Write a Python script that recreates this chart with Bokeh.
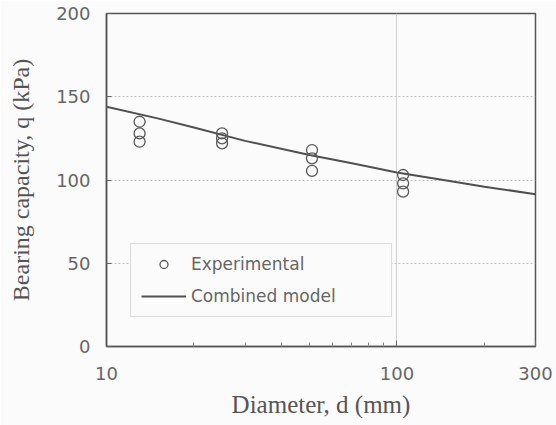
from bokeh.plotting import figure
from bokeh.models import (FixedTicker, Legend, LegendItem, ColumnDataSource,
                          Range1d, PrintfTickFormatter)
from bokeh.embed import file_html
from bokeh.resources import INLINE

# ---- data ----
test_diam = [13, 25, 51, 105]          # mm
q_d13 = [135, 128, 123]                # kPa
q_d25 = [128, 125, 122]
q_d51 = [118, 113, 105.5]
q_d105 = [103, 98, 93]

model_diam = [10, 15, 20, 30, 50, 70, 100, 150, 200, 300]
model_q = [144, 137, 131.5, 123.5, 115, 110, 104.5, 99.5, 96, 91.5]

x_ticks = [10, 100, 300]
x_minor = [20, 30, 40, 50, 60, 70, 80, 90, 200]
y_ticks = [0, 50, 100, 150, 200]

x_lo, x_hi = 10, 300
y_lo, y_hi = 0, 200

# ---- sources ----
groups = [q_d13, q_d25, q_d51, q_d105]
exp_d, exp_q = [], []
for d, qs in zip(test_diam, groups):
    exp_d += [d] * len(qs)
    exp_q += qs
exp_src = ColumnDataSource(dict(d=exp_d, q=exp_q))
model_src = ColumnDataSource(dict(d=model_diam, q=model_q))

BG = "#fbfbfb"
p = figure(width=556, height=425, x_axis_type="log",
           x_range=Range1d(x_lo, x_hi), y_range=Range1d(y_lo, y_hi),
           output_backend="svg", toolbar_location=None,
           min_border_left=106, min_border_right=21,
           min_border_top=13, min_border_bottom=79,
           background_fill_color=BG, border_fill_color=BG)

p.outline_line_color = "#555555"
p.outline_line_width = 1.5

# x axis
xa = p.xaxis[0]
xa.ticker = FixedTicker(ticks=x_ticks, minor_ticks=x_minor)
xa.formatter = PrintfTickFormatter(format="%d")
xa.major_tick_in = 6
xa.major_tick_out = 0
xa.minor_tick_in = 4
xa.minor_tick_out = 0
xa.major_tick_line_color = "#666666"
xa.minor_tick_line_color = "#888888"
xa.axis_line_color = "#555555"
xa.axis_line_width = 1.5
xa.major_label_standoff = 20
xa.major_label_text_font = "DejaVu Sans"
xa.major_label_text_font_size = "18px"
xa.major_label_text_color = "#666666"
xa.axis_label = "Diameter, d (mm)"
xa.axis_label_text_font = "Liberation Serif"
xa.axis_label_text_font_size = "25px"
xa.axis_label_text_font_style = "normal"
xa.axis_label_text_color = "#555555"
xa.axis_label_standoff = 8

# y axis
ya = p.yaxis[0]
ya.ticker = FixedTicker(ticks=y_ticks, minor_ticks=[])
ya.formatter = PrintfTickFormatter(format="%d")
ya.major_tick_in = 5
ya.major_tick_out = 0
ya.minor_tick_in = 0
ya.minor_tick_out = 0
ya.major_tick_line_color = "#666666"
ya.axis_line_color = "#555555"
ya.axis_line_width = 1.5
ya.major_label_standoff = 16
ya.major_label_text_font = "DejaVu Sans"
ya.major_label_text_font_size = "18px"
ya.major_label_text_color = "#666666"
ya.axis_label = "Bearing capacity, q (kPa)"
ya.axis_label_text_font = "Liberation Serif"
ya.axis_label_text_font_size = "24px"
ya.axis_label_text_font_style = "normal"
ya.axis_label_text_color = "#555555"
ya.axis_label_standoff = 19

# grids
p.xgrid.ticker = FixedTicker(ticks=[100])
p.xgrid.grid_line_color = "#d0d0d0"
p.xgrid.grid_line_width = 1
p.ygrid.ticker = FixedTicker(ticks=[50, 100, 150])
p.ygrid.grid_line_color = "#c4c4c4"
p.ygrid.grid_line_dash = "2 2"

# marks
line_r = p.line(x="d", y="q", source=model_src, line_color="#505050", line_width=2)
pts_r = p.scatter(x="d", y="q", source=exp_src, marker="circle", size=11,
                  fill_color=None, line_color="#5a5a5a", line_width=1.3)

legend = Legend(items=[LegendItem(label="Experimental", renderers=[pts_r]),
                       LegendItem(label="Combined model", renderers=[line_r])],
                location=(24, 29), glyph_width=45, glyph_height=20,
                label_height=20, label_width=190, label_standoff=5,
                spacing=12, padding=10, margin=0,
                border_line_color="#bbbbbb", border_line_width=1,
                background_fill_color=BG, background_fill_alpha=1.0,
                label_text_font="DejaVu Sans", label_text_font_size="17px",
                label_text_color="#666666")
p.add_layout(legend)

open("out.html", "w").write(file_html(p, INLINE))
